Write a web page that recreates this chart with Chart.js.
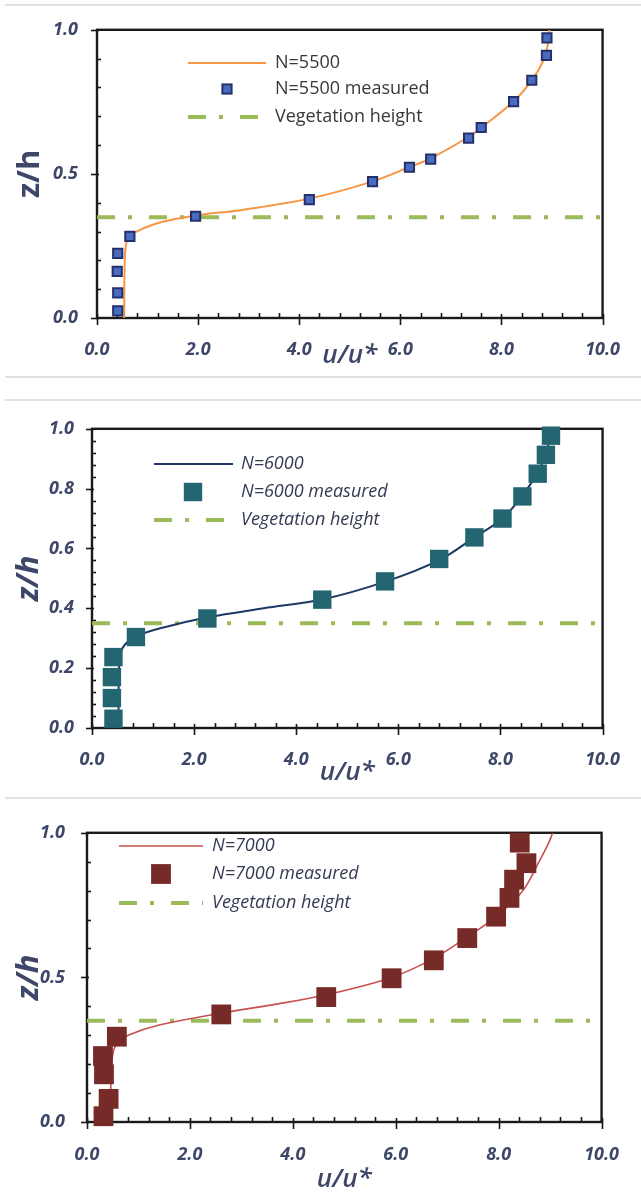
<!DOCTYPE html>
<html><head><meta charset="utf-8">
<script src="https://cdn.jsdelivr.net/npm/chart.js@4.4.1/dist/chart.umd.min.js"></script>
<style>
html,body{margin:0;padding:0;background:#fff;width:641px;height:1199px;overflow:hidden;}
.sep{position:absolute;left:5px;width:636px;height:2px;background:#e2e2e2;}
.pane{position:absolute;left:0;width:641px;}
canvas{display:block;}
</style></head><body>
<div class="sep" style="top:4px"></div>
<div class="sep" style="top:376px"></div>
<div class="sep" style="top:399px"></div>
<div class="sep" style="top:797px"></div>
<div class="pane" style="top:0px;height:376px"><canvas id="c1" width="641" height="376"></canvas></div>
<div class="pane" style="top:400px;height:397px"><canvas id="c2" width="641" height="397"></canvas></div>
<div class="pane" style="top:800px;height:399px"><canvas id="c3" width="641" height="399"></canvas></div>
<script>
// ---------- DATA ----------
const xTicksLabelStep = 2;           // u/u* major step
const vegX = [0, 10];
const vegY = [0.35, 0.35];

// Panel 1 : N=5500
const p1Labels = ['N=5500', 'N=5500 measured', 'Vegetation height'];
const p1MeasX = [0.41,0.41,0.40,0.41,0.65,1.95,4.20,5.45,6.18,6.60,7.35,7.60,8.24,8.60,8.89,8.90];
const p1MeasY = [0.025,0.087,0.162,0.224,0.283,0.353,0.411,0.473,0.523,0.551,0.624,0.661,0.751,0.825,0.911,0.972];
const p1ModX = [0.54,0.54,0.55,0.57,0.64,0.96,1.28,1.92,2.90,4.22,5.47,6.20,6.61,7.35,7.61,8.25,8.61,8.82,8.92,8.95];
const p1ModY = [0.0,0.10,0.20,0.25,0.284,0.314,0.333,0.355,0.376,0.415,0.475,0.525,0.555,0.628,0.662,0.753,0.827,0.89,0.95,1.0];

// Panel 2 : N=6000
const p2Labels = ['N=6000', 'N=6000 measured', 'Vegetation height'];
const p2MeasX = [0.42,0.39,0.39,0.42,0.86,2.26,4.51,5.74,6.80,7.49,8.04,8.43,8.73,8.89,8.99];
const p2MeasY = [0.031,0.10,0.17,0.237,0.304,0.366,0.429,0.49,0.565,0.637,0.70,0.774,0.85,0.913,0.977];
const p2ModX = [0.52,0.52,0.53,0.56,0.65,0.87,1.40,2.27,3.36,4.52,5.76,6.81,7.49,8.04,8.43,8.73,8.89,9.02];
const p2ModY = [0.0,0.10,0.20,0.25,0.28,0.307,0.336,0.370,0.40,0.43,0.49,0.562,0.637,0.70,0.777,0.854,0.918,1.0];

// Panel 3 : N=7000
const p3Labels = ['N=7000', 'N=7000 measured', 'Vegetation height'];
const p3MeasX = [0.32,0.42,0.33,0.31,0.58,2.61,4.65,5.92,6.74,7.39,7.95,8.21,8.30,8.54,8.41];
const p3MeasY = [0.02,0.08,0.165,0.228,0.295,0.372,0.432,0.497,0.559,0.636,0.71,0.775,0.838,0.895,0.966];
const p3ModX = [0.45,0.46,0.48,0.52,0.60,0.80,1.42,2.59,3.60,4.65,5.92,6.73,7.39,7.95,8.47,8.77,8.97,9.05];
const p3ModY = [0.0,0.10,0.20,0.25,0.275,0.30,0.336,0.376,0.405,0.44,0.50,0.565,0.64,0.71,0.80,0.895,0.964,1.0];

const xTitle = 'u/u*';
const yTitle = 'z/h';

// ---------- helpers ----------
const pts = (xs, ys) => xs.map((x, i) => ({x, y: ys[i]}));
Chart.defaults.font.family = "'Open Sans', 'Liberation Sans', sans-serif";

const frameTicks = {
  id: 'frameTicks',
  beforeDatasetsDraw(chart, args, o) {
    const {ctx, chartArea: a, scales: {x, y}} = chart;
    ctx.save();
    ctx.strokeStyle = '#161616';
    ctx.lineWidth = 1.6;
    const isMul = (v, s) => Math.abs(v / s - Math.round(v / s)) < 1e-6;
    for (let i = 0; ; i++) {
      const v = i * o.xMinor; if (v > x.max + 1e-9) break;
      const px = Math.round(x.getPixelForValue(v)) + 0.5;
      ctx.beginPath();
      if (isMul(v, o.xMajor)) { ctx.moveTo(px, a.bottom - 4); ctx.lineTo(px, a.bottom + 7); }
      else { ctx.moveTo(px, a.bottom); ctx.lineTo(px, a.bottom - 5); }
      ctx.stroke();
    }
    for (let i = 0; ; i++) {
      const v = i * o.yMinor; if (v > y.max + 1e-9) break;
      const py = Math.round(y.getPixelForValue(v)) + 0.5;
      ctx.beginPath();
      if (isMul(v, o.yMajor)) { ctx.moveTo(a.left - 6, py); ctx.lineTo(a.left + 2, py); }
      else { ctx.moveTo(a.left, py); ctx.lineTo(a.left + 4, py); }
      ctx.stroke();
    }
    ctx.lineWidth = 2.4;
    ctx.strokeStyle = o.frameColor || '#1a1a1a';
    ctx.strokeRect(a.left, a.top, a.right - a.left, a.bottom - a.top);
    ctx.restore();
  }
};

const customLegend = {
  id: 'customLegend',
  afterDatasetsDraw(chart, args, o) {
    const ctx = chart.ctx;
    const ds = chart.data.datasets;
    const order = [1, 0, 2];
    ctx.save();
    order.forEach((di, row) => {
      const d = ds[di];
      const y = o.rows[row];
      if (di === 0) {
        const r = d.pointRadius * Math.SQRT1_2;
        ctx.fillStyle = d.backgroundColor;
        ctx.fillRect(o.markX - r, y - r, 2 * r, 2 * r);
        if (d.borderWidth) {
          ctx.lineWidth = d.borderWidth; ctx.strokeStyle = d.borderColor;
          ctx.strokeRect(o.markX - r, y - r, 2 * r, 2 * r);
        }
      } else {
        ctx.beginPath();
        ctx.setLineDash(d.borderDash || []);
        ctx.lineWidth = d.borderWidth; ctx.strokeStyle = d.borderColor;
        ctx.moveTo(o.x1, y); ctx.lineTo(o.x2, y); ctx.stroke();
        ctx.setLineDash([]);
      }
      ctx.font = o.font; ctx.fillStyle = o.color;
      ctx.textBaseline = 'middle'; ctx.textAlign = 'left';
      ctx.fillText(d.label, o.textX, y);
    });
    ctx.restore();
  }
};

function makePanel(id, s) {
  const H = s.H;
  const tickFont = {size: 18, style: 'italic', weight: '700'};
  const tickColor = '#3e4768';
  return new Chart(document.getElementById(id), {
    type: 'scatter',
    data: {
      datasets: [
        { label: s.labels[1], data: pts(s.measX, s.measY), pointStyle: 'rect',
          pointRadius: s.mR, pointHoverRadius: s.mR, backgroundColor: s.mBg, borderColor: s.mBorder,
          borderWidth: s.mBW, pointBorderWidth: s.mBW, showLine: false, clip: false },
        { label: s.labels[0], data: pts(s.modX, s.modY), showLine: true, pointRadius: 0,
          borderColor: s.lineColor, borderWidth: s.lineW, tension: 0.35, fill: false },
        { label: s.labels[2], data: pts(vegX, vegY), showLine: true, pointRadius: 0,
          borderColor: '#9bbb59', borderWidth: 4, borderDash: [18, 13, 4, 17], tension: 0, fill: false }
      ]
    },
    options: {
      responsive: false, animation: false, events: [],
      layout: { padding: { left: 0, right: s.padR, top: s.top, bottom: 0 } },
      plugins: {
        legend: { display: false }, tooltip: { enabled: false },
        frameTicks: { xMajor: 2, xMinor: 0.4, yMajor: s.yStep, yMinor: s.yMinor },
        customLegend: s.legend
      },
      scales: {
        x: {
          type: 'linear', min: 0, max: 10,
          grid: { display: false, drawTicks: false }, border: { display: false },
          ticks: { stepSize: xTicksLabelStep, padding: s.xPad, color: tickColor, font: tickFont,
                   callback: v => Number(v).toFixed(1), maxRotation: 0 },
          title: { display: true, text: xTitle, color: tickColor,
                   font: { size: 26, style: 'italic', weight: '600' }, padding: { top: 0, bottom: s.xTitlePB } },
          afterFit: sc => { sc.height = H - s.bottom; }
        },
        y: {
          type: 'linear', min: 0, max: 1,
          grid: { display: false, drawTicks: false }, border: { display: false },
          ticks: { stepSize: s.yStep, padding: s.yPad, color: tickColor, font: tickFont,
                   callback: v => Number(v).toFixed(1) },
          title: { display: true, text: yTitle, color: tickColor,
                   font: { size: 31, style: s.yTitleStyle, weight: '700' }, padding: { top: s.yTitlePT, bottom: 0 } },
          afterFit: sc => { sc.width = s.left; }
        }
      }
    },
    plugins: [frameTicks, customLegend]
  });
}

makePanel('c1', {
  H: 376, left: 97, padR: 641 - 613, top: 22, bottom: 318,
  labels: p1Labels, measX: p1MeasX, measY: p1MeasY, modX: p1ModX, modY: p1ModY,
  mR: 6.5, mBg: '#4a6cc0', mBorder: '#24306c', mBW: 2,
  lineColor: '#f79646', lineW: 2,
  yStep: 0.5, yMinor: 0.1, xPad: 21, yPad: 19, xTitlePB: 5, yTitleStyle: 'normal', yTitlePT: 12,
  legend: { rows: [63, 89, 117], x1: 188, x2: 266, markX: 227, textX: 275,
            font: "18px 'Open Sans', sans-serif", color: '#383838' }
});
makePanel('c2', {
  H: 397, left: 92, padR: 641 - 612, top: 19, bottom: 328,
  labels: p2Labels, measX: p2MeasX, measY: p2MeasY, modX: p2ModX, modY: p2ModY,
  mR: 13, mBg: '#236571', mBorder: '#236571', mBW: 0,
  lineColor: '#1f3864', lineW: 2,
  yStep: 0.2, yMinor: 0.04, xPad: 21, yPad: 18, xTitlePB: 9, yTitleStyle: 'italic', yTitlePT: 11,
  legend: { rows: [64, 92, 120], x1: 154, x2: 233, markX: 193, textX: 241,
            font: "italic 18px 'Open Sans', sans-serif", color: '#343a52' }
});
makePanel('c3', {
  H: 399, left: 87, padR: 641 - 621, top: 28, bottom: 322,
  labels: p3Labels, measX: p3MeasX, measY: p3MeasY, modX: p3ModX, modY: p3ModY,
  mR: 14, mBg: '#772b28', mBorder: '#772b28', mBW: 0,
  lineColor: '#c8504e', lineW: 1.6,
  yStep: 0.5, yMinor: 0.1, xPad: 22, yPad: 22, xTitlePB: 4, yTitleStyle: 'italic', yTitlePT: 11,
  legend: { rows: [46, 74, 103], x1: 119, x2: 203, markX: 161, textX: 212,
            font: "italic 18px 'Open Sans', sans-serif", color: '#343a52' }
});
</script>
</body></html>
